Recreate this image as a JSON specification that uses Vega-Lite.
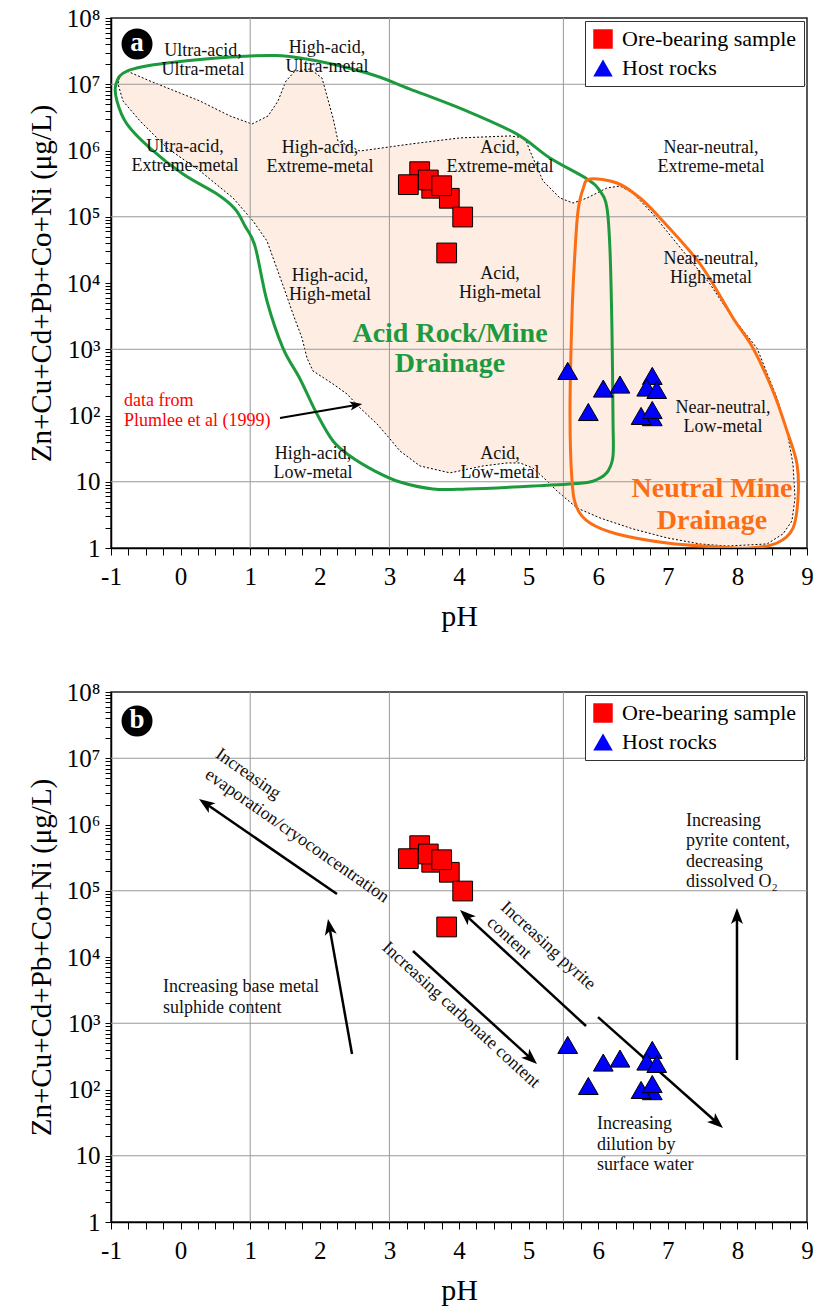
{
  "$schema": "https://vega.github.io/schema/vega-lite/v6.json",
  "padding": {"left": 26, "top": 5, "right": 5, "bottom": 5},
  "config": {
    "font": "Liberation Serif",
    "view": {"stroke": "#222", "strokeWidth": 1.5},
    "axis": {"labelFont": "Liberation Serif", "titleFont": "Liberation Serif", "labelColor": "black", "titleColor": "black", "tickColor": "black", "domainColor": "black", "domainWidth": 1.5, "grid": false, "titleFontWeight": "normal", "labelOverlap": false, "labelFlush": false},
    "legend": {"labelFont": "Liberation Serif"},
    "text": {"font": "Liberation Serif"}
  },
  "datasets": {
    "samples": [
      {"type": "Ore-bearing sample", "pH": 3.435, "c": 479000},
      {"type": "Ore-bearing sample", "pH": 3.272, "c": 305000},
      {"type": "Ore-bearing sample", "pH": 3.608, "c": 269000},
      {"type": "Ore-bearing sample", "pH": 3.861, "c": 190000},
      {"type": "Ore-bearing sample", "pH": 3.559, "c": 359000},
      {"type": "Ore-bearing sample", "pH": 3.751, "c": 294000},
      {"type": "Ore-bearing sample", "pH": 4.053, "c": 99000},
      {"type": "Ore-bearing sample", "pH": 3.823, "c": 28400},
      {"type": "Host rocks", "pH": 5.562, "c": 471},
      {"type": "Host rocks", "pH": 6.073, "c": 255},
      {"type": "Host rocks", "pH": 6.313, "c": 293},
      {"type": "Host rocks", "pH": 5.858, "c": 113},
      {"type": "Host rocks", "pH": 6.777, "c": 396},
      {"type": "Host rocks", "pH": 6.697, "c": 264},
      {"type": "Host rocks", "pH": 6.841, "c": 243},
      {"type": "Host rocks", "pH": 6.777, "c": 94.4},
      {"type": "Host rocks", "pH": 6.616, "c": 98.5},
      {"type": "Host rocks", "pH": 6.777, "c": 121}
    ],
    "region": [
      {"i": 1, "pH": -0.770, "c": 15800000}, {"i": 2, "pH": -0.440, "c": 11200000}, {"i": 3, "pH": -0.152, "c": 8470000},
      {"i": 4, "pH": 0.279, "c": 5580000}, {"i": 5, "pH": 0.710, "c": 3320000}, {"i": 6, "pH": 1.026, "c": 2510000},
      {"i": 7, "pH": 1.256, "c": 3320000}, {"i": 8, "pH": 1.399, "c": 5580000}, {"i": 9, "pH": 1.514, "c": 11200000},
      {"i": 10, "pH": 1.644, "c": 15800000}, {"i": 11, "pH": 1.859, "c": 17000000}, {"i": 12, "pH": 2.032, "c": 12400000},
      {"i": 13, "pH": 2.190, "c": 3100000}, {"i": 14, "pH": 2.261, "c": 1390000}, {"i": 15, "pH": 2.578, "c": 982000},
      {"i": 16, "pH": 3.296, "c": 1250000}, {"i": 17, "pH": 4.014, "c": 1550000}, {"i": 18, "pH": 4.733, "c": 1660000},
      {"i": 19, "pH": 4.948, "c": 1550000}, {"i": 20, "pH": 5.020, "c": 982000}, {"i": 21, "pH": 5.207, "c": 347000},
      {"i": 22, "pH": 5.451, "c": 192000}, {"i": 23, "pH": 5.638, "c": 161000}, {"i": 24, "pH": 5.839, "c": 192000},
      {"i": 25, "pH": 6.126, "c": 272000}, {"i": 26, "pH": 6.313, "c": 291000}, {"i": 27, "pH": 6.500, "c": 228000},
      {"i": 28, "pH": 6.787, "c": 110000}, {"i": 29, "pH": 7.218, "c": 30400}, {"i": 30, "pH": 7.606, "c": 9660},
      {"i": 31, "pH": 7.894, "c": 3400}, {"i": 32, "pH": 8.282, "c": 1040}, {"i": 33, "pH": 8.569, "c": 184},
      {"i": 34, "pH": 8.713, "c": 58.3}, {"i": 35, "pH": 8.799, "c": 18.5}, {"i": 36, "pH": 8.828, "c": 5.69},
      {"i": 37, "pH": 8.784, "c": 2.56}, {"i": 38, "pH": 8.655, "c": 1.63}, {"i": 39, "pH": 8.425, "c": 1.15},
      {"i": 40, "pH": 7.851, "c": 1.07}, {"i": 41, "pH": 7.463, "c": 1.15}, {"i": 42, "pH": 6.989, "c": 1.42},
      {"i": 43, "pH": 6.500, "c": 1.94}, {"i": 44, "pH": 6.026, "c": 2.84}, {"i": 45, "pH": 5.695, "c": 4.02},
      {"i": 46, "pH": 5.408, "c": 7.24}, {"i": 47, "pH": 5.264, "c": 10.3}, {"i": 48, "pH": 5.063, "c": 16.1},
      {"i": 49, "pH": 4.876, "c": 19.2}, {"i": 50, "pH": 4.690, "c": 19.2}, {"i": 51, "pH": 4.345, "c": 17.3},
      {"i": 52, "pH": 3.871, "c": 13.6}, {"i": 53, "pH": 3.440, "c": 17.3}, {"i": 54, "pH": 3.152, "c": 29.1},
      {"i": 55, "pH": 3.009, "c": 44.2}, {"i": 56, "pH": 2.822, "c": 74.5}, {"i": 57, "pH": 2.578, "c": 130},
      {"i": 58, "pH": 2.391, "c": 211}, {"i": 59, "pH": 2.190, "c": 299}, {"i": 60, "pH": 1.902, "c": 470},
      {"i": 61, "pH": 1.816, "c": 738}, {"i": 62, "pH": 1.744, "c": 1480}, {"i": 63, "pH": 1.615, "c": 3400},
      {"i": 64, "pH": 1.500, "c": 7570}, {"i": 65, "pH": 1.241, "c": 43100}, {"i": 66, "pH": 1.040, "c": 86300},
      {"i": 67, "pH": 0.753, "c": 192000}, {"i": 68, "pH": 0.279, "c": 491000}, {"i": 69, "pH": -0.195, "c": 1090000},
      {"i": 70, "pH": -0.583, "c": 2790000}, {"i": 71, "pH": -0.828, "c": 5580000}, {"i": 72, "pH": -0.899, "c": 10100000},
      {"i": 73, "pH": -0.871, "c": 13300000}
    ],
    "green": [
      {"i": 1, "pH": -0.928, "c": 10100000}, {"i": 2, "pH": -0.770, "c": 15800000}, {"i": 3, "pH": -0.195, "c": 20900000},
      {"i": 4, "pH": 0.997, "c": 26700000}, {"i": 5, "pH": 1.716, "c": 24900000}, {"i": 6, "pH": 2.678, "c": 14800000},
      {"i": 7, "pH": 3.296, "c": 8470000}, {"i": 8, "pH": 4.115, "c": 3940000}, {"i": 9, "pH": 4.833, "c": 1770000},
      {"i": 10, "pH": 5.307, "c": 771000}, {"i": 11, "pH": 5.839, "c": 372000}, {"i": 12, "pH": 6.026, "c": 245000},
      {"i": 13, "pH": 6.126, "c": 136000}, {"i": 14, "pH": 6.170, "c": 30400}, {"i": 15, "pH": 6.198, "c": 1880},
      {"i": 16, "pH": 6.213, "c": 82.6}, {"i": 17, "pH": 6.213, "c": 24.5}, {"i": 18, "pH": 6.141, "c": 14.5},
      {"i": 19, "pH": 5.997, "c": 11.0}, {"i": 20, "pH": 5.782, "c": 9.58}, {"i": 21, "pH": 5.063, "c": 8.63},
      {"i": 22, "pH": 4.115, "c": 7.78}, {"i": 23, "pH": 3.626, "c": 7.78}, {"i": 24, "pH": 3.152, "c": 9.91},
      {"i": 25, "pH": 2.793, "c": 14.5}, {"i": 26, "pH": 2.434, "c": 24.5}, {"i": 27, "pH": 2.190, "c": 41.2},
      {"i": 28, "pH": 1.960, "c": 105}, {"i": 29, "pH": 1.716, "c": 356}, {"i": 30, "pH": 1.471, "c": 1040},
      {"i": 31, "pH": 1.241, "c": 5350}, {"i": 32, "pH": 1.069, "c": 36100}, {"i": 33, "pH": 0.925, "c": 72400},
      {"i": 34, "pH": 0.782, "c": 131000}, {"i": 35, "pH": 0.523, "c": 220000}, {"i": 36, "pH": 0.034, "c": 442000},
      {"i": 37, "pH": -0.440, "c": 1090000}, {"i": 38, "pH": -0.770, "c": 2510000}, {"i": 39, "pH": -0.914, "c": 5580000}
    ],
    "orange": [
      {"i": 1, "pH": 5.882, "c": 372000}, {"i": 2, "pH": 6.270, "c": 323000}, {"i": 3, "pH": 6.601, "c": 192000},
      {"i": 4, "pH": 6.888, "c": 95700}, {"i": 5, "pH": 7.463, "c": 19400}, {"i": 6, "pH": 7.937, "c": 2960},
      {"i": 7, "pH": 8.224, "c": 1040}, {"i": 8, "pH": 8.511, "c": 234}, {"i": 9, "pH": 8.713, "c": 58.3},
      {"i": 10, "pH": 8.856, "c": 18.5}, {"i": 11, "pH": 8.871, "c": 5.69}, {"i": 12, "pH": 8.799, "c": 2.0},
      {"i": 13, "pH": 8.569, "c": 1.19}, {"i": 14, "pH": 8.181, "c": 1.0}, {"i": 15, "pH": 7.707, "c": 1.04},
      {"i": 16, "pH": 6.989, "c": 1.19}, {"i": 17, "pH": 6.270, "c": 1.63}, {"i": 18, "pH": 5.882, "c": 2.38},
      {"i": 19, "pH": 5.695, "c": 4.02}, {"i": 20, "pH": 5.624, "c": 10.3}, {"i": 21, "pH": 5.595, "c": 105},
      {"i": 22, "pH": 5.624, "c": 3400}, {"i": 23, "pH": 5.667, "c": 30400}, {"i": 24, "pH": 5.710, "c": 122000},
      {"i": 25, "pH": 5.782, "c": 262000}
    ],
    "vgrid": [{"pH": 1, "c": 1, "c2": 100000000}, {"pH": 3, "c": 1, "c2": 100000000}, {"pH": 5.5, "c": 1, "c2": 100000000}],
    "hgrid": [{"pH": -1, "pH2": 9, "c": 10}, {"pH": -1, "pH2": 9, "c": 1000}, {"pH": -1, "pH2": 9, "c": 100000}, {"pH": -1, "pH2": 9, "c": 10000000}],
    "yticks": [
      {"c": 1}, {"c": 2}, {"c": 3}, {"c": 4}, {"c": 5}, {"c": 6}, {"c": 7}, {"c": 8}, {"c": 9},
      {"c": 10}, {"c": 20}, {"c": 30}, {"c": 40}, {"c": 50}, {"c": 60}, {"c": 70}, {"c": 80}, {"c": 90},
      {"c": 100}, {"c": 200}, {"c": 300}, {"c": 400}, {"c": 500}, {"c": 600}, {"c": 700}, {"c": 800}, {"c": 900},
      {"c": 1000}, {"c": 2000}, {"c": 3000}, {"c": 4000}, {"c": 5000}, {"c": 6000}, {"c": 7000}, {"c": 8000}, {"c": 9000},
      {"c": 10000}, {"c": 20000}, {"c": 30000}, {"c": 40000}, {"c": 50000}, {"c": 60000}, {"c": 70000}, {"c": 80000}, {"c": 90000},
      {"c": 100000}, {"c": 200000}, {"c": 300000}, {"c": 400000}, {"c": 500000}, {"c": 600000}, {"c": 700000}, {"c": 800000}, {"c": 900000},
      {"c": 1000000}, {"c": 2000000}, {"c": 3000000}, {"c": 4000000}, {"c": 5000000}, {"c": 6000000}, {"c": 7000000}, {"c": 8000000}, {"c": 9000000},
      {"c": 10000000}, {"c": 20000000}, {"c": 30000000}, {"c": 40000000}, {"c": 50000000}, {"c": 60000000}, {"c": 70000000}, {"c": 80000000}, {"c": 90000000},
      {"c": 100000000}
    ],
    "xminor": [
      {"pH": -0.75}, {"pH": -0.5}, {"pH": -0.25}, {"pH": 0.25}, {"pH": 0.5}, {"pH": 0.75}, {"pH": 1.25}, {"pH": 1.5}, {"pH": 1.75},
      {"pH": 2.25}, {"pH": 2.5}, {"pH": 2.75}, {"pH": 3.25}, {"pH": 3.5}, {"pH": 3.75}, {"pH": 4.25}, {"pH": 4.5}, {"pH": 4.75},
      {"pH": 5.25}, {"pH": 5.5}, {"pH": 5.75}, {"pH": 6.25}, {"pH": 6.5}, {"pH": 6.75}, {"pH": 7.25}, {"pH": 7.5}, {"pH": 7.75},
      {"pH": 8.25}, {"pH": 8.5}, {"pH": 8.75}
    ],
    "xmajor": [{"pH": -1}, {"pH": 0}, {"pH": 1}, {"pH": 2}, {"pH": 3}, {"pH": 4}, {"pH": 5}, {"pH": 6}, {"pH": 7}, {"pH": 8}, {"pH": 9}],
    "labelsA": [
      {"t": ["Ultra-acid,", "Ultra-metal"], "pH": 0.322, "c": 31800000},
      {"t": ["High-acid,", "Ultra-metal"], "pH": 2.103, "c": 35200000},
      {"t": ["Ultra-acid,", "Extreme-metal"], "pH": 0.063, "c": 1130000},
      {"t": ["High-acid,", "Extreme-metal"], "pH": 2.003, "c": 1090000},
      {"t": ["Acid,", "Extreme-metal"], "pH": 4.589, "c": 1090000},
      {"t": ["Near-neutral,", "Extreme-metal"], "pH": 7.621, "c": 1090000},
      {"t": ["High-acid,", "High-metal"], "pH": 2.147, "c": 12800},
      {"t": ["Acid,", "High-metal"], "pH": 4.589, "c": 13700},
      {"t": ["Near-neutral,", "High-metal"], "pH": 7.621, "c": 23000},
      {"t": ["Near-neutral,", "Low-metal"], "pH": 7.793, "c": 130},
      {"t": ["High-acid,", "Low-metal"], "pH": 1.902, "c": 26.2},
      {"t": ["Acid,", "Low-metal"], "pH": 4.589, "c": 26.2}
    ],
    "bigGreen": [{"t": ["Acid Rock/Mine", "Drainage"], "pH": 3.871, "c": 1700}],
    "bigOrange": [{"t": ["Neutral Mine", "Drainage"], "pH": 7.635, "c": 7.78}],
    "plumlee": [{"t": ["data from", "Plumlee et al (1999)"], "pH": -0.813, "c": 166}],
    "arrowA": [{"id": "p", "i": 0, "pH": 1.428, "c": 91.6}, {"id": "p", "i": 1, "pH": 2.50, "c": 143}],
    "headA": [{"pH": 2.522, "c": 144, "heading": 80.3}],
    "letterA": [{"pH": -0.626, "c": 40500000, "t": "a"}],
    "letterB": [{"pH": -0.626, "c": 36500000, "t": "b"}],
    "arrowsB": [
      {"id": "e1", "i": 0, "pH": 2.247, "c": 89300}, {"id": "e1", "i": 1, "pH": 0.359, "c": 2070000},
      {"id": "e2", "i": 0, "pH": 2.463, "c": 343}, {"id": "e2", "i": 1, "pH": 2.138, "c": 28500},
      {"id": "e3", "i": 0, "pH": 5.825, "c": 908}, {"id": "e3", "i": 1, "pH": 4.099, "c": 42500},
      {"id": "e4", "i": 0, "pH": 3.339, "c": 12300}, {"id": "e4", "i": 1, "pH": 5.036, "c": 292},
      {"id": "e5", "i": 0, "pH": 5.997, "c": 1240}, {"id": "e5", "i": 1, "pH": 7.707, "c": 31.5},
      {"id": "e6", "i": 0, "pH": 7.994, "c": 279}, {"id": "e6", "i": 1, "pH": 7.994, "c": 41600}
    ],
    "headsB": [
      {"pH": 0.359, "c": 2070000, "heading": 304.5},
      {"pH": 2.138, "c": 28500, "heading": 349.9},
      {"pH": 4.099, "c": 42500, "heading": 312.6},
      {"pH": 5.036, "c": 292, "heading": 132.3},
      {"pH": 7.707, "c": 31.5, "heading": 131.6},
      {"pH": 7.994, "c": 41600, "heading": 0}
    ],
    "textB35": [
      {"t": "Increasing", "pH": 0.968, "c": 5780000},
      {"t": "evaporation/cryoconcentration", "pH": 1.672, "c": 670000}
    ],
    "textB42": [
      {"t": "Increasing carbonate content", "pH": 4.029, "c": 1330},
      {"t": "Increasing pyrite", "pH": 5.279, "c": 14700},
      {"t": "content", "pH": 4.718, "c": 19400}
    ],
    "textBflat": [
      {"t": ["Increasing base metal", "sulphide content"], "pH": -0.253, "c": 3520},
      {"t": ["Increasing", "dilution by", "surface water"], "pH": 5.983, "c": 30.1},
      {"t": ["Increasing", "pyrite content,", "decreasing", "dissolved O₂"], "pH": 7.261, "c": 1130000}
    ]
  },
  "vconcat": [
    {
      "width": 696,
      "height": 530,
      "encoding": {
        "x": {"field": "pH", "type": "quantitative", "scale": {"domain": [-1, 9], "nice": false, "zero": false},
          "axis": {"title": "pH", "titleFontSize": 30, "titlePadding": 12, "labelFontSize": 25, "labelPadding": 9, "tickColor": "black", "tickSize": 7,
            "values": [-1,-0.75,-0.5,-0.25,0,0.25,0.5,0.75,1,1.25,1.5,1.75,2,2.25,2.5,2.75,3,3.25,3.5,3.75,4,4.25,4.5,4.75,5,5.25,5.5,5.75,6,6.25,6.5,6.75,7,7.25,7.5,7.75,8,8.25,8.5,8.75,9],
            "labelExpr": "datum.value % 1 === 0 ? '' + datum.value : ''"}},
        "y": {"field": "c", "type": "quantitative", "scale": {"type": "log", "domain": [1, 100000000], "nice": false},
          "axis": {"title": "Zn+Cu+Cd+Pb+Co+Ni (μg/L)", "titleFontSize": 29, "titlePadding": 10, "labelFontSize": 25, "labelPadding": 5, "tickColor": "black", "tickSize": 6,
            "values": [1,2,3,4,5,6,7,8,9,10,20,30,40,50,60,70,80,90,100,200,300,400,500,600,700,800,900,1000,2000,3000,4000,5000,6000,7000,8000,9000,10000,20000,30000,40000,50000,60000,70000,80000,90000,100000,200000,300000,400000,500000,600000,700000,800000,900000,1000000,2000000,3000000,4000000,5000000,6000000,7000000,8000000,9000000,10000000,20000000,30000000,40000000,50000000,60000000,70000000,80000000,90000000,100000000],
            "labelExpr": "abs(log(datum.value)/LN10 - round(log(datum.value)/LN10)) < 0.001 ? (datum.value < 5 ? '1' : datum.value < 50 ? '10' : '10' + ['','','²','³','⁴','⁵','⁶','⁷','⁸'][round(log(datum.value)/LN10)]) : ''"}}
      },
      "layer": [
        {"data": {"name": "region"}, "mark": {"type": "line", "interpolate": "linear-closed", "fill": "#fdede2", "stroke": "black", "strokeWidth": 1, "strokeDash": [2, 2], "clip": true},
          "encoding": {"order": {"field": "i", "type": "quantitative"}}},
        {"data": {"name": "vgrid"}, "mark": {"type": "rule", "color": "#999", "strokeWidth": 1}, "encoding": {"y2": {"field": "c2"}}},
        {"data": {"name": "hgrid"}, "mark": {"type": "rule", "color": "#999", "strokeWidth": 1}, "encoding": {"x2": {"field": "pH2"}}},
        {"data": {"name": "green"}, "mark": {"type": "line", "interpolate": "cardinal-closed", "color": "#1e9a3e", "strokeWidth": 3, "clip": true},
          "encoding": {"order": {"field": "i", "type": "quantitative"}}},
        {"data": {"name": "orange"}, "mark": {"type": "line", "interpolate": "cardinal-closed", "color": "#fb6e14", "strokeWidth": 3, "clip": true},
          "encoding": {"order": {"field": "i", "type": "quantitative"}}},
        {"data": {"name": "labelsA"}, "mark": {"type": "text", "font": "Liberation Serif", "fontSize": 18, "lineHeight": 19, "color": "#111", "align": "center", "baseline": "middle"},
          "encoding": {"text": {"field": "t"}}},
        {"data": {"name": "bigGreen"}, "mark": {"type": "text", "font": "Liberation Serif", "fontSize": 28, "fontWeight": "bold", "lineHeight": 30, "color": "#1e9a3e", "align": "center", "baseline": "middle"},
          "encoding": {"text": {"field": "t"}}},
        {"data": {"name": "bigOrange"}, "mark": {"type": "text", "font": "Liberation Serif", "fontSize": 28, "fontWeight": "bold", "lineHeight": 32, "color": "#fb6e14", "align": "center", "baseline": "middle"},
          "encoding": {"text": {"field": "t"}}},
        {"data": {"name": "plumlee"}, "mark": {"type": "text", "font": "Liberation Serif", "fontSize": 18, "lineHeight": 20, "color": "#ff0000", "align": "left", "baseline": "middle"},
          "encoding": {"text": {"field": "t"}}},
        {"data": {"name": "arrowA"}, "mark": {"type": "line", "color": "black", "strokeWidth": 2},
          "encoding": {"detail": {"field": "id"}, "order": {"field": "i", "type": "quantitative"}}},
        {"data": {"name": "headA"}, "mark": {"type": "point", "shape": "M0,-1L0.75,1L0,0.5L-0.75,1Z", "filled": true, "color": "black", "size": 150, "opacity": 1},
          "encoding": {"angle": {"field": "heading", "type": "quantitative", "scale": null}}},
        {"data": {"name": "samples"}, "mark": {"type": "point", "filled": true, "stroke": "black", "strokeWidth": 1, "size": 390, "opacity": 1},
          "encoding": {
            "color": {"field": "type", "type": "nominal", "scale": {"domain": ["Ore-bearing sample", "Host rocks"], "range": ["#ff0000", "#0000ff"]},
              "legend": {"title": null, "orient": "top-right", "offset": 3, "padding": 7, "strokeColor": "#333", "fillColor": "white", "labelFont": "Liberation Serif", "labelFontSize": 22, "labelColor": "black", "symbolSize": 380, "symbolStrokeColor": "black", "symbolStrokeWidth": 1, "rowPadding": 6, "labelOffset": 8, "labelLimit": 0, "cornerRadius": 0, "symbolOpacity": 1}},
            "shape": {"field": "type", "type": "nominal", "scale": {"domain": ["Ore-bearing sample", "Host rocks"], "range": ["square", "triangle-up"]},
              "legend": {"title": null, "orient": "top-right", "offset": 3, "padding": 7, "strokeColor": "#333", "fillColor": "white", "labelFont": "Liberation Serif", "labelFontSize": 22, "labelColor": "black", "symbolSize": 380, "symbolStrokeColor": "black", "symbolStrokeWidth": 1, "rowPadding": 6, "labelOffset": 8, "labelLimit": 0, "cornerRadius": 0, "symbolOpacity": 1}}
          }},
        {"data": {"name": "letterA"}, "mark": {"type": "point", "shape": "circle", "filled": true, "color": "black", "size": 960, "opacity": 1}},
        {"data": {"name": "letterA"}, "mark": {"type": "text", "font": "Liberation Serif", "fontSize": 27, "fontWeight": "bold", "color": "white", "align": "center", "baseline": "middle", "dy": -1},
          "encoding": {"text": {"field": "t"}}},
        {"data": {"name": "yticks"}, "mark": {"type": "rule", "color": "black", "strokeWidth": 1},
          "encoding": {"x": {"datum": -1, "type": "quantitative"}, "x2": {"datum": -1.075}}},
        {"data": {"name": "xminor"}, "mark": {"type": "rule", "color": "black", "strokeWidth": 1},
          "encoding": {"y": {"datum": 1, "type": "quantitative"}, "y2": {"datum": 0.84}}},
        {"data": {"name": "xmajor"}, "mark": {"type": "rule", "color": "black", "strokeWidth": 1.2},
          "encoding": {"y": {"datum": 1, "type": "quantitative"}, "y2": {"datum": 0.706}}}
      ]
    },
    {
      "width": 696,
      "height": 530,
      "encoding": {
        "x": {"field": "pH", "type": "quantitative", "scale": {"domain": [-1, 9], "nice": false, "zero": false},
          "axis": {"title": "pH", "titleFontSize": 30, "titlePadding": 12, "labelFontSize": 25, "labelPadding": 9, "tickColor": "black", "tickSize": 7,
            "values": [-1,-0.75,-0.5,-0.25,0,0.25,0.5,0.75,1,1.25,1.5,1.75,2,2.25,2.5,2.75,3,3.25,3.5,3.75,4,4.25,4.5,4.75,5,5.25,5.5,5.75,6,6.25,6.5,6.75,7,7.25,7.5,7.75,8,8.25,8.5,8.75,9],
            "labelExpr": "datum.value % 1 === 0 ? '' + datum.value : ''"}},
        "y": {"field": "c", "type": "quantitative", "scale": {"type": "log", "domain": [1, 100000000], "nice": false},
          "axis": {"title": "Zn+Cu+Cd+Pb+Co+Ni (μg/L)", "titleFontSize": 29, "titlePadding": 10, "labelFontSize": 25, "labelPadding": 5, "tickColor": "black", "tickSize": 6,
            "values": [1,2,3,4,5,6,7,8,9,10,20,30,40,50,60,70,80,90,100,200,300,400,500,600,700,800,900,1000,2000,3000,4000,5000,6000,7000,8000,9000,10000,20000,30000,40000,50000,60000,70000,80000,90000,100000,200000,300000,400000,500000,600000,700000,800000,900000,1000000,2000000,3000000,4000000,5000000,6000000,7000000,8000000,9000000,10000000,20000000,30000000,40000000,50000000,60000000,70000000,80000000,90000000,100000000],
            "labelExpr": "abs(log(datum.value)/LN10 - round(log(datum.value)/LN10)) < 0.001 ? (datum.value < 5 ? '1' : datum.value < 50 ? '10' : '10' + ['','','²','³','⁴','⁵','⁶','⁷','⁸'][round(log(datum.value)/LN10)]) : ''"}}
      },
      "layer": [
        {"data": {"name": "vgrid"}, "mark": {"type": "rule", "color": "#999", "strokeWidth": 1}, "encoding": {"y2": {"field": "c2"}}},
        {"data": {"name": "hgrid"}, "mark": {"type": "rule", "color": "#999", "strokeWidth": 1}, "encoding": {"x2": {"field": "pH2"}}},
        {"data": {"name": "textBflat"}, "mark": {"type": "text", "font": "Liberation Serif", "fontSize": 18, "lineHeight": 20.5, "color": "#111", "align": "left", "baseline": "middle"},
          "encoding": {"text": {"field": "t"}}},
        {"data": {"name": "textB35"}, "mark": {"type": "text", "font": "Liberation Serif", "fontSize": 18, "angle": 35, "color": "#111", "align": "center", "baseline": "middle"},
          "encoding": {"text": {"field": "t"}}},
        {"data": {"name": "textB42"}, "mark": {"type": "text", "font": "Liberation Serif", "fontSize": 18, "angle": 42.5, "color": "#111", "align": "center", "baseline": "middle"},
          "encoding": {"text": {"field": "t"}}},
        {"data": {"name": "arrowsB"}, "mark": {"type": "line", "color": "black", "strokeWidth": 2.5},
          "encoding": {"detail": {"field": "id"}, "order": {"field": "i", "type": "quantitative"}}},
        {"data": {"name": "headsB"}, "mark": {"type": "point", "shape": "M0,-1L0.75,1L0,0.5L-0.75,1Z", "filled": true, "color": "black", "size": 256, "opacity": 1},
          "encoding": {"angle": {"field": "heading", "type": "quantitative", "scale": null}}},
        {"data": {"name": "samples"}, "mark": {"type": "point", "filled": true, "stroke": "black", "strokeWidth": 1, "size": 390, "opacity": 1},
          "encoding": {
            "color": {"field": "type", "type": "nominal", "scale": {"domain": ["Ore-bearing sample", "Host rocks"], "range": ["#ff0000", "#0000ff"]},
              "legend": {"title": null, "orient": "top-right", "offset": 3, "padding": 7, "strokeColor": "#333", "fillColor": "white", "labelFont": "Liberation Serif", "labelFontSize": 22, "labelColor": "black", "symbolSize": 380, "symbolStrokeColor": "black", "symbolStrokeWidth": 1, "rowPadding": 6, "labelOffset": 8, "labelLimit": 0, "cornerRadius": 0, "symbolOpacity": 1}},
            "shape": {"field": "type", "type": "nominal", "scale": {"domain": ["Ore-bearing sample", "Host rocks"], "range": ["square", "triangle-up"]},
              "legend": {"title": null, "orient": "top-right", "offset": 3, "padding": 7, "strokeColor": "#333", "fillColor": "white", "labelFont": "Liberation Serif", "labelFontSize": 22, "labelColor": "black", "symbolSize": 380, "symbolStrokeColor": "black", "symbolStrokeWidth": 1, "rowPadding": 6, "labelOffset": 8, "labelLimit": 0, "cornerRadius": 0, "symbolOpacity": 1}}
          }},
        {"data": {"name": "letterB"}, "mark": {"type": "point", "shape": "circle", "filled": true, "color": "black", "size": 960, "opacity": 1}},
        {"data": {"name": "letterB"}, "mark": {"type": "text", "font": "Liberation Serif", "fontSize": 27, "fontWeight": "bold", "color": "white", "align": "center", "baseline": "middle", "dy": -1},
          "encoding": {"text": {"field": "t"}}},
        {"data": {"name": "yticks"}, "mark": {"type": "rule", "color": "black", "strokeWidth": 1},
          "encoding": {"x": {"datum": -1, "type": "quantitative"}, "x2": {"datum": -1.075}}},
        {"data": {"name": "xminor"}, "mark": {"type": "rule", "color": "black", "strokeWidth": 1},
          "encoding": {"y": {"datum": 1, "type": "quantitative"}, "y2": {"datum": 0.84}}},
        {"data": {"name": "xmajor"}, "mark": {"type": "rule", "color": "black", "strokeWidth": 1.2},
          "encoding": {"y": {"datum": 1, "type": "quantitative"}, "y2": {"datum": 0.706}}}
      ]
    }
  ],
  "spacing": 144,
  "bounds": "flush",
  "resolve": {"scale": {"color": "independent", "shape": "independent"}, "legend": {"color": "independent", "shape": "independent"}}
}
